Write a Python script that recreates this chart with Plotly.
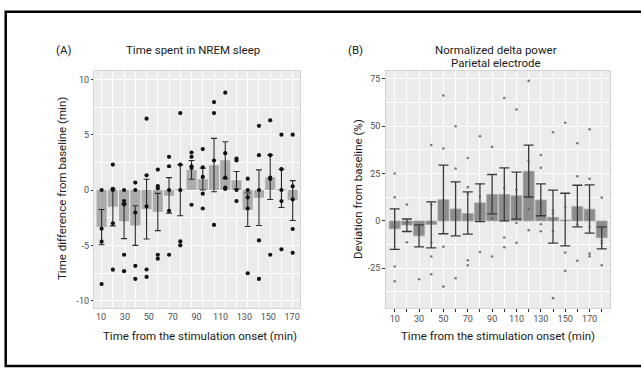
import numpy as np
import plotly.graph_objects as go

W, H = 641, 373

time_min = [10, 20, 30, 40, 50, 60, 70, 80, 90, 100, 110, 120, 130, 140, 150, 160, 170, 180]
tick_labels = ["10", "30", "50", "70", "90", "110", "130", "150", "170"]

# Panel A: time spent in NREM sleep (difference from baseline, min)
nrem_mean = [-3.33, -1.52, -2.82, -3.21, -1.73, -1.97, -0.52, -0.03, 1.82, 0.97,
             2.24, 2.70, 0.88, -1.79, -0.70, 1.15, 0.03, -0.91]
nrem_hi = [-1.76, 0.09, -1.24, -1.42, 0.97, -0.30, 1.12, 2.27, 2.67, 1.97,
           4.67, 4.36, 1.67, -0.27, 1.82, 3.18, 1.88, 0.85]
nrem_lo = [-4.94, -3.24, -4.39, -5.00, -4.42, -3.67, -2.09, -2.33, 0.97, 0.00,
           -0.15, 1.03, 0.09, -3.30, -3.21, -0.85, -1.58, -2.76]
nrem_pts = [
    [0, -3.5, -4.67, -8.5],
    [2.3, 0.1, 0, -3.0, -7.2],
    [0, -1.0, -1.3, -5.85, -7.33],
    [0.67, 0, -2.03, -6.85, -8.03],
    [6.45, 1.33, -1.48, -7.18, -7.85],
    [1.85, 0.36, 0.15, -5.85, -6.2],
    [3.0, 2.15, 0, -1.88, -5.85],
    [6.95, 2.3, 0, -4.64, -5.0],
    [3.39, 3.0, 2.15, 2.0, -1.33],
    [3.7, 2.06, 1.18, -0.33, -1.67],
    [7.95, 6.95, 2.67, -3.15],
    [8.8, 3.33, 1.12, 0.21, 0.1],
    [2.85, 2.67, 0, -1.0],
    [1.03, 0, -0.67, -1.67, -7.52],
    [5.8, 3.15, 0, -4.55, -8.03],
    [6.3, 3.15, 1.12, 1.0, -5.85],
    [5.0, 1.88, 0, -1.0, -5.36],
    [5.0, 0.33, -0.85, -3.52, -5.67],
]

# Panel B: normalized delta power, parietal electrode (deviation from baseline, %)
delta_mean = [-4.2, -2.2, -7.9, -1.9, 11.1, 6.3, 3.9, 9.5, 13.9, 13.9,
              13.3, 26.2, 11.0, 1.9, 0.4, 7.6, 6.2, -8.9]
delta_hi = [6.3, 1.0, -2.1, 10.0, 29.4, 20.6, 15.3, 19.5, 24.5, 28.0,
            25.7, 40.0, 19.5, 16.2, 14.6, 18.8, 19.0, -3.2]
delta_lo = [-15.0, -5.6, -13.7, -14.3, -6.8, -7.9, -7.0, -0.4, 3.7, 0.0,
            0.9, 12.6, 2.7, -11.7, -13.2, -3.2, -6.5, -14.8]
delta_pts = [
    [25.0, 12.5, -2.8, -24.1, -31.9],
    [8.6, -1.0, -11.3],
    [-3.5, -30.8],
    [40.0, 8.5, -11.6, -18.8, -28.2],
    [66.2, 38.2, -13.7, -34.7],
    [50.0, 27.6, -30.3],
    [33.2, 17.8, 14.3, -20.8, -23.4],
    [44.7, 12.7, 8.5, -16.4],
    [39.1, 1.2, -18.8],
    [64.9, 17.3, 10.6, -8.8, -13.9],
    [58.8, 16.5, 11.8, -1.1, -11.6],
    [73.9, 31.9, 6.3, -4.9],
    [34.8, 28.0, -1.8, -5.5],
    [46.8, 5.6, 4.0, -5.5, -40.8],
    [51.8, 7.0, -16.7, -26.4],
    [41.0, 23.6, -1.9, -21.1],
    [48.4, 22.2, -3.2, -17.3, -18.7],
    [12.3, -10.4, -11.8, -23.4],
]

FONT = "Roboto"
TXT = "#1a1a1a"
TICK = "#4d4d4d"


def px(x):
    return x / W


def py(y):
    return 1 - y / H


fig = go.Figure()

# ---- Panel A ----
fig.add_trace(go.Bar(
    x=time_min, y=nrem_mean, width=9, xaxis="x", yaxis="y",
    marker=dict(color="#ababab", line=dict(width=0)),
    error_y=dict(type="data", symmetric=False,
                 array=[h - m for h, m in zip(nrem_hi, nrem_mean)],
                 arrayminus=[m - l for m, l in zip(nrem_mean, nrem_lo)],
                 color="#2b2b2b", thickness=1.1, width=3),
    showlegend=False, hoverinfo="skip"))
fig.add_trace(go.Scatter(
    x=[t for t, pts in zip(time_min, nrem_pts) for _ in pts],
    y=[v for pts in nrem_pts for v in pts],
    mode="markers", xaxis="x", yaxis="y",
    marker=dict(color="#111111", size=4.2, line=dict(width=0)),
    showlegend=False, hoverinfo="skip"))

# ---- Panel B ----
fig.add_trace(go.Bar(
    x=time_min, y=delta_mean, width=9, xaxis="x2", yaxis="y2",
    marker=dict(color="#8d8d8d", line=dict(width=0.8, color="#a8a8a8")),
    error_y=dict(type="data", symmetric=False,
                 array=[h - m for h, m in zip(delta_hi, delta_mean)],
                 arrayminus=[m - l for m, l in zip(delta_mean, delta_lo)],
                 color="#3a3a3a", thickness=1.3, width=5),
    showlegend=False, hoverinfo="skip"))
fig.add_trace(go.Scatter(
    x=[t for t, pts in zip(time_min, delta_pts) for _ in pts],
    y=[v for pts in delta_pts for v in pts],
    mode="markers", xaxis="x2", yaxis="y2",
    marker=dict(color="rgba(90,90,90,0.8)", size=2.6, line=dict(width=0)),
    showlegend=False, hoverinfo="skip"))

ydom = [py(308), py(70.5)]
common_axis = dict(zeroline=False, showline=True, mirror=True,
                   linecolor="#d4d4d4", linewidth=1,
                   tickfont=dict(family=FONT, size=9, color=TICK))

# A x-axis: gridlines at each bar (minor), labels spread across the bars
fig.update_layout(
    xaxis=dict(domain=[px(94.3), px(300)], range=[3.5, 186.5], anchor="y",
               tickmode="array", tickvals=list(np.linspace(9.5, 179.5, 9)),
               ticktext=tick_labels, ticks="", showgrid=False,
               minor=dict(tickmode="linear", tick0=10, dtick=10, showgrid=True,
                          gridcolor="white", gridwidth=1, ticks=""),
               **common_axis),
    yaxis=dict(domain=ydom, range=[-10.66, 10.8], anchor="x",
               tickmode="array", tickvals=[-10, -5, 0, 5, 10],
               ticktext=["-10", "-5", "0", "5", "10"],
               ticks="outside", ticklen=2.5, tickcolor="#333333", tickwidth=1,
               showgrid=True, gridcolor="white", gridwidth=1.1,
               minor=dict(tickmode="linear", tick0=0, dtick=2.5, showgrid=True,
                          gridcolor="white", gridwidth=0.5, ticks=""),
               **common_axis),
    xaxis2=dict(domain=[px(385.7), px(610)], range=[2.6, 186.8], anchor="y2",
                tickmode="array", tickvals=time_min,
                ticktext=[tick_labels[i // 2] if i % 2 == 0 else "" for i in range(len(time_min))],
                ticks="outside", ticklen=2.5, tickcolor="#333333", tickwidth=1,
                showgrid=True, gridcolor="white", gridwidth=1,
                **common_axis),
    yaxis2=dict(domain=ydom, range=[-46, 79.4], anchor="x2",
                tickmode="array", tickvals=[-25, 0, 25, 50, 75],
                ticktext=["-25", "0", "25", "50", "75"],
                ticks="outside", ticklen=2.5, tickcolor="#333333", tickwidth=1,
                showgrid=True, gridcolor="white", gridwidth=1.1,
                minor=dict(tickmode="linear", tick0=0, dtick=12.5, showgrid=True,
                           gridcolor="white", gridwidth=0.5, ticks=""),
                **common_axis),
)

ann = []


def add_text(text, x, y, size=11.5, angle=0, xanchor="center"):
    ann.append(dict(text=text, x=px(x), y=py(y), xref="paper", yref="paper",
                    showarrow=False, xanchor=xanchor, yanchor="middle",
                    textangle=angle,
                    font=dict(family=FONT, size=size, color=TXT)))


add_text("(A)", 63, 50)
add_text("Time spent in NREM sleep", 193, 50)
add_text("(B)", 355.5, 50)
add_text("Normalized delta power", 496, 50)
add_text("Parietal electrode", 496, 63.3)
add_text("Time from the stimulation onset (min)", 200, 335.7)
add_text("Time from the stimulation onset (min)", 498, 335.7)
add_text("Time difference from baseline (min)", 62, 189, angle=-90)
add_text("Deviation from baseline (%)", 358, 189, angle=-90)

fig.update_layout(
    width=W, height=H, autosize=False,
    margin=dict(l=0, r=0, t=0, b=0),
    paper_bgcolor="white", plot_bgcolor="#ebebeb",
    font=dict(family=FONT, color=TXT),
    annotations=ann,
    shapes=[dict(type="rect", xref="paper", yref="paper",
                 x0=px(5.7), x1=px(650), y0=py(366), y1=py(11.8),
                 line=dict(color="black", width=2.5), layer="above")],
    bargap=0.1,
)

fig.write_html("out.html")
